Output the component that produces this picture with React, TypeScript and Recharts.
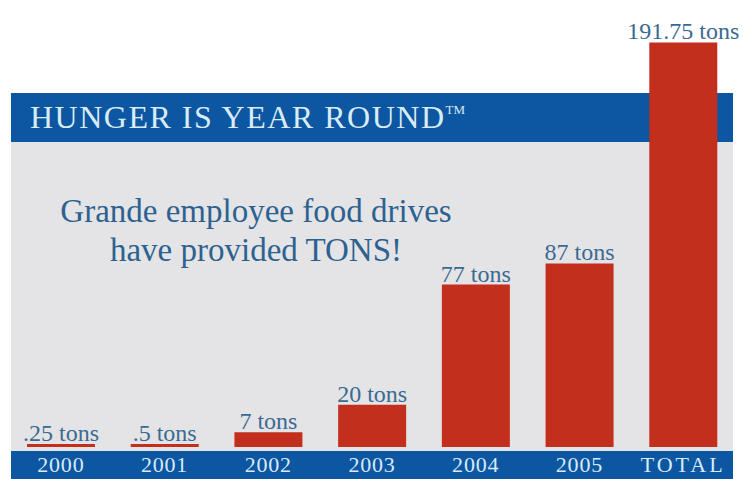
import React from "react";
import { BarChart, Bar, XAxis, YAxis, LabelList } from "recharts";

const categories = ["2000", "2001", "2002", "2003", "2004", "2005", "TOTAL"];
const tons = [0.25, 0.5, 7, 20, 77, 87, 191.75];
const valueLabels = [".25 tons", ".5 tons", "7 tons", "20 tons", "77 tons", "87 tons", "191.75 tons"];

const data = categories.map((c, i) => ({ name: c, tons: tons[i], label: valueLabels[i] }));

const BLUE = "#0c56a2";
const GRAY = "#e4e4e6";
const RED = "#c22f1d";
const FONT = "'Liberation Serif', 'DejaVu Serif', serif";

const Tick = (props: any) => {
  const { x, payload } = props;
  const isTotal = payload.value === "TOTAL";
  return (
    <text
      x={x}
      y={472}
      textAnchor="middle"
      fill="#d6ebf7"
      fontFamily={FONT}
      fontSize={22}
      letterSpacing={isTotal ? 3 : 0.8}
    >
      {payload.value}
    </text>
  );
};

const ValueLabel = (props: any) => {
  const { x, y, width, index } = props;
  return (
    <text x={x + width / 2} y={y - 3} textAnchor="middle" fill="#3a6a92" fontFamily={FONT} fontSize={24}>
      {valueLabels[index]}
    </text>
  );
};

export default function App() {
  return (
    <div style={{ position: "absolute", left: 0, top: 0, width: 743, height: 479, background: "#ffffff", overflow: "hidden" }}>
      <div style={{ position: "absolute", left: 11, top: 142, width: 722, height: 310, background: GRAY }} />
      <div style={{ position: "absolute", left: 11, top: 93, width: 722, height: 49, background: BLUE }} />
      <div style={{ position: "absolute", left: 11, top: 451, width: 722, height: 28, background: BLUE }} />
      <div
        style={{
          position: "absolute",
          left: 30,
          top: 100,
          fontFamily: FONT,
          fontSize: 32,
          letterSpacing: 1.5,
          color: "#d9ecf6",
          whiteSpace: "nowrap",
          lineHeight: "34px",
        }}
      >
        HUNGER IS YEAR ROUND<sup style={{ fontSize: 13, verticalAlign: "top", lineHeight: "20px", letterSpacing: 0 }}>TM</sup>
      </div>
      <div
        style={{
          position: "absolute",
          left: 30,
          top: 192,
          width: 452,
          textAlign: "center",
          fontFamily: FONT,
          fontSize: 33,
          lineHeight: "39px",
          color: "#2d6290",
          whiteSpace: "nowrap",
        }}
      >
        Grande employee food drives
        <br />
        have provided TONS!
      </div>
      <div style={{ position: "absolute", left: 0, top: 0 }}>
        <BarChart
          width={743}
          height={479}
          data={data}
          margin={{ top: 25, right: 8, left: 9, bottom: 0 }}
          barCategoryGap={18}
        >
          <XAxis dataKey="name" height={32} axisLine={false} tickLine={false} tick={<Tick />} interval={0} />
          <YAxis hide domain={[0, 200]} />
          <Bar dataKey="tons" fill={RED} minPointSize={3} isAnimationActive={false}>
            <LabelList dataKey="label" content={<ValueLabel />} />
          </Bar>
        </BarChart>
      </div>
    </div>
  );
}
